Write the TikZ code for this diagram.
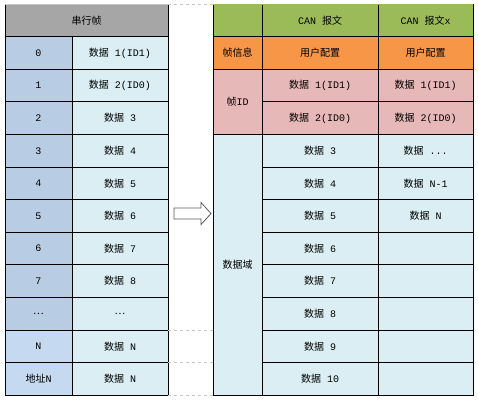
\documentclass[tikz,border=0pt]{standalone}
\usepackage{fontspec}
\setmainfont{Liberation Mono}
\newfontfamily\zh{Noto Sans CJK SC}
\definecolor{hdrgray}{HTML}{A6A6A6}
\definecolor{idxblue}{HTML}{B8CCE4}
\definecolor{idxlight}{HTML}{C5D9F1}
\definecolor{datacyan}{HTML}{DAEEF3}
\definecolor{cangreen}{HTML}{9BBB59}
\definecolor{cfgorange}{HTML}{F79646}
\definecolor{idpink}{HTML}{E6B8B7}
\newcommand{\sj}{{\zh 数据}}
\begin{document}
\begin{tikzpicture}[x=1pt,y=-1pt,
    cell/.style={draw,line width=0.9pt,inner sep=0pt,outer sep=0pt,anchor=north west,minimum height=32.6pt,font=\fontsize{10}{12}\selectfont},
    idx/.style={cell,fill=idxblue,minimum width=67pt},
    dat/.style={cell,fill=datacyan,minimum width=96pt},
    gridline/.style={gray!45,dashed,line width=0.6pt}]
  \useasboundingbox (0,0) rectangle (478,400);
  % serial frame
  \node[cell,fill=hdrgray,minimum width=163pt] (shdr) at (5,4) {\zh 串行帧};
  \foreach \a/\b [count=\r from 0] in {0/1(ID1),1/2(ID0),2/3,3/4,4/5,5/6,6/7,7/8} {
    \node[idx] (i\r) at (5,36.6+32.6*\r) {\a};
    \node[dat] (d\r) at (72,36.6+32.6*\r) {\sj\ \b};
  }
  \node[idx] (i8) at (5,297.4) {\zh …};
  \node[dat] (d8) at (72,297.4) {\zh …};
  \node[idx,fill=idxlight] (i9) at (5,330) {N};
  \node[dat] (d9) at (72,330) {\sj\ N};
  \node[idx,fill=idxlight] (i10) at (5,362.6) {{\zh 地址}N};
  \node[dat] (d10) at (72,362.6) {\sj\ N};
  \draw[gray!45,line width=0.9pt] (shdr.north west) -- (shdr.north east);
  % CAN frames
  \begin{scope}[every node/.append style={cell}]
    \node[fill=cangreen,minimum width=49pt] (rh0) at (213,4) {};
    \node[fill=cangreen,minimum width=116pt] (rh1) at (262,4) {CAN {\zh 报文}};
    \node[fill=cangreen,minimum width=95pt] (rh2) at (378,4) {CAN {\zh 报文}x};
    \node[fill=cfgorange,minimum width=49pt] (info) at (213,36.6) {\zh 帧信息};
    \node[fill=cfgorange,minimum width=116pt] (cfg1) at (262,36.6) {\zh 用户配置};
    \node[fill=cfgorange,minimum width=95pt] (cfg2) at (378,36.6) {\zh 用户配置};
    \node[fill=idpink,minimum width=49pt,minimum height=65.2pt] (fid) at (213,69.2) {{\zh 帧}ID};
    \node[fill=idpink,minimum width=116pt] (a1) at (262,69.2) {\sj\ 1(ID1)};
    \node[fill=idpink,minimum width=116pt] (a2) at (262,101.8) {\sj\ 2(ID0)};
    \node[fill=idpink,minimum width=95pt] (xa1) at (378,69.2) {\sj\ 1(ID1)};
    \node[fill=idpink,minimum width=95pt] (xa2) at (378,101.8) {\sj\ 2(ID0)};
    \node[fill=datacyan,minimum width=49pt,minimum height=260.8pt] (dom) at (213,134.4) {\zh 数据域};
    \foreach \b [count=\r from 0] in {3,4,5,6,7,8,9,10}
      \node[fill=datacyan,minimum width=116pt] (a\b) at (262,134.4+32.6*\r) {\sj\ \b};
    \node[fill=datacyan,minimum width=95pt] (x0) at (378,134.4) {\sj\ ...};
    \node[fill=datacyan,minimum width=95pt] (x1) at (378,167) {\sj\ N-1};
    \node[fill=datacyan,minimum width=95pt] (x2) at (378,199.6) {\sj\ N};
    \foreach \r in {3,...,7}
      \node[fill=datacyan,minimum width=95pt] (x\r) at (378,134.4+32.6*\r) {};
  \end{scope}
  \draw[cangreen,line width=0.9pt] (rh0.north west) -- (rh2.north east);
  % grid lines between the tables
  \draw[gridline] (shdr.north east) -- (rh0.north west);
  \draw[gridline] (d9.north east) -- (dom.west |- d9.north east);
  \draw[gridline] (d10.north east) -- (dom.west |- d10.north east);
  \draw[gridline] (d10.south east) -- (dom.west |- d10.south east);
  % arrow
  \draw[gray!70!black,fill=white,line width=0.8pt,line join=miter]
    (174,208) -- (201,208) -- (201,202.5) -- (211,213.5) -- (201,224.5)
    -- (201,219) -- (174,219) -- cycle;
\end{tikzpicture}
\end{document}
